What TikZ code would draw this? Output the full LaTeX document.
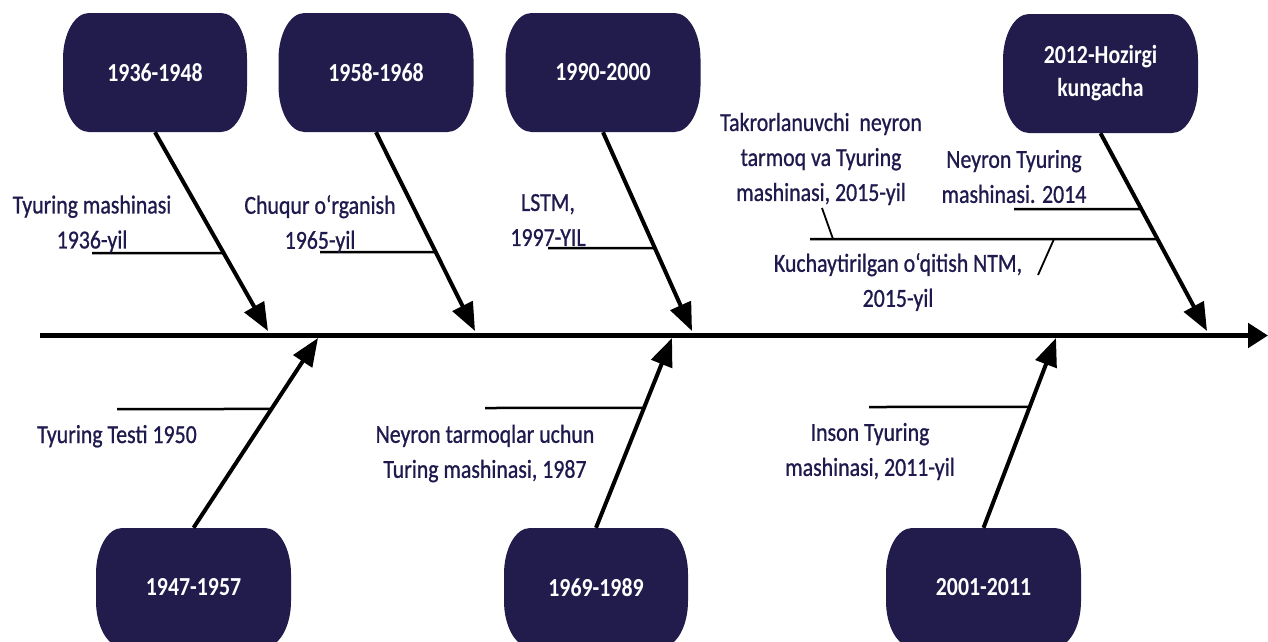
\documentclass[tikz,border=0pt]{standalone}
\usepackage{fontspec}
\setmainfont{Carlito}[FakeStretch=0.84]
\newfontfamily\notefont{Carlito}[FakeStretch=0.84,FakeBold=0.8]
\usetikzlibrary{arrows.meta,calc}
\definecolor{boxnavy}{HTML}{211C4C}
\definecolor{labelnavy}{HTML}{1F1A4D}
\begin{document}
\begin{tikzpicture}[x=1pt,y=1pt,
  era/.style={minimum width=#1, minimum height=119pt, inner sep=0pt,
    text=white, align=center, font=\fontsize{26}{33}\selectfont\bfseries,
    path picture={
      \fill[boxnavy]
        ([xshift=26pt]path picture bounding box.north west)
        -- ([xshift=-26pt]path picture bounding box.north east)
        arc[start angle=90,end angle=0,x radius=26pt,y radius=46pt]
        -- ([yshift=46pt]path picture bounding box.south east)
        arc[start angle=0,end angle=-90,x radius=26pt,y radius=46pt]
        -- ([xshift=26pt]path picture bounding box.south west)
        arc[start angle=270,end angle=180,x radius=26pt,y radius=46pt]
        -- ([yshift=-46pt]path picture bounding box.north west)
        arc[start angle=180,end angle=90,x radius=26pt,y radius=46pt]
        -- cycle;}},
  note/.style={text=labelnavy, align=center, inner sep=0pt,
    font=\notefont\fontsize{26}{35}\selectfont},
  spine/.style={line width=5pt, -{Triangle[length=20pt,width=24pt]}},
  spoke/.style={line width=4pt, -{Triangle[length=28pt,width=22pt]}},
  tick/.style={line width=2.5pt},
  pointer/.style={line width=1.8pt}]

\fill[white] (0,0) rectangle (1268,-641);
\useasboundingbox (0,0) rectangle (1268,-641);
\clip (0,0) rectangle (1268,-641);

% period boxes
\node[era=184pt] (e1) at (155,-72.5)    {1936-1948};
\node[era=195pt] (e2) at (376,-72.5)    {1958-1968};
\node[era=195pt] (e3) at (603,-72.5)    {1990-2000};
\node[era=195pt] (e4) at (1100.5,-73.5) {2012-Hozirgi\\kungacha};
\node[era=195pt] (e5) at (193.5,-587.5) {1947-1957};
\node[era=184pt] (e6) at (596,-587.5)   {1969-1989};
\node[era=195pt] (e7) at (983.5,-587.5) {2001-2011};

% main time axis
\coordinate (sL) at (40,-335.5);
\coordinate (sR) at (1268,-335.5);
\draw[spine] (sL) -- (sR);

% points where the spokes meet the axis
\coordinate (p1) at (268,-331);
\coordinate (p2) at (475,-331);
\coordinate (p3) at (692,-331);
\coordinate (p4) at (1207,-331);
\coordinate (p5) at (318,-338);
\coordinate (p6) at (672,-338);
\coordinate (p7) at (1056,-338);

\draw[spoke] (e1.south) -- (p1);
\draw[spoke] (e2.south) -- (p2);
\draw[spoke] (e3.south) -- (p3);
\draw[spoke] (e4.south) -- (p4);
\draw[spoke] (e5.north) -- (p5);
\draw[spoke] (e6.north) -- (p6);
\draw[spoke] (e7.north) -- (p7);

% event ticks
\coordinate (k1) at (92,-253);
\coordinate (k2) at (320,-252);
\coordinate (k3) at (548,-248);
\coordinate (k4) at (1014,-209);
\coordinate (k5) at (810,-239);
\coordinate (k6) at (117,-409);
\coordinate (k7) at (485,-408);
\coordinate (k8) at (869,-407);
\draw[tick] (k1) -- ($(e1.south)!0.608!(p1)$);
\draw[tick] (k2) -- ($(e2.south)!0.603!(p2)$);
\draw[tick] (k3) -- ($(e3.south)!0.583!(p3)$);
\draw[tick] (k4) -- ($(e4.south)!0.384!(p4)$);
\draw[tick] (k5) -- ($(e4.south)!0.535!(p4)$);
\draw[tick] (k6) -- ($(e5.north)!0.626!(p5)$);
\draw[tick] (k7) -- ($(e6.north)!0.632!(p6)$);
\draw[tick] (k8) -- ($(e7.north)!0.637!(p7)$);

% short leaders to the shared tick
\coordinate (q1) at (822,-208);
\coordinate (q2) at (833,-239);
\coordinate (q3) at (1054,-239);
\coordinate (q4) at (1038,-275);
\draw[pointer] (q1) -- (q2);
\draw[pointer] (q3) -- (q4);

% event labels
\node[note] (n1) at (92,-224)    {Tyuring mashinasi\\1936-yil};
\node[note] (n2) at (320,-224)   {Chuqur o‘rganish\\1965-yil};
\node[note] (n3) at (548,-220)   {LSTM,\\1997-YIL};
\node[note] (n4) at (821,-159)   {Takrorlanuvchi\ \ neyron\\tarmoq va Tyuring\\mashinasi, 2015-yil};
\node[note] (n5) at (1014,-176.5) {Neyron Tyuring\\mashinasi. 2014};
\node[note] (n6) at (898,-282)   {Kuchaytirilgan o‘qitish NTM,\\2015-yil};
\node[note,anchor=base] (n7) at (117,-443) {Tyuring Testi 1950};
\node[note] (n8) at (485,-453.5) {Neyron tarmoqlar uchun\\Turing mashinasi, 1987};
\node[note] (n9) at (870,-451.5) {Inson Tyuring\\mashinasi, 2011-yil};
\end{tikzpicture}
\end{document}
